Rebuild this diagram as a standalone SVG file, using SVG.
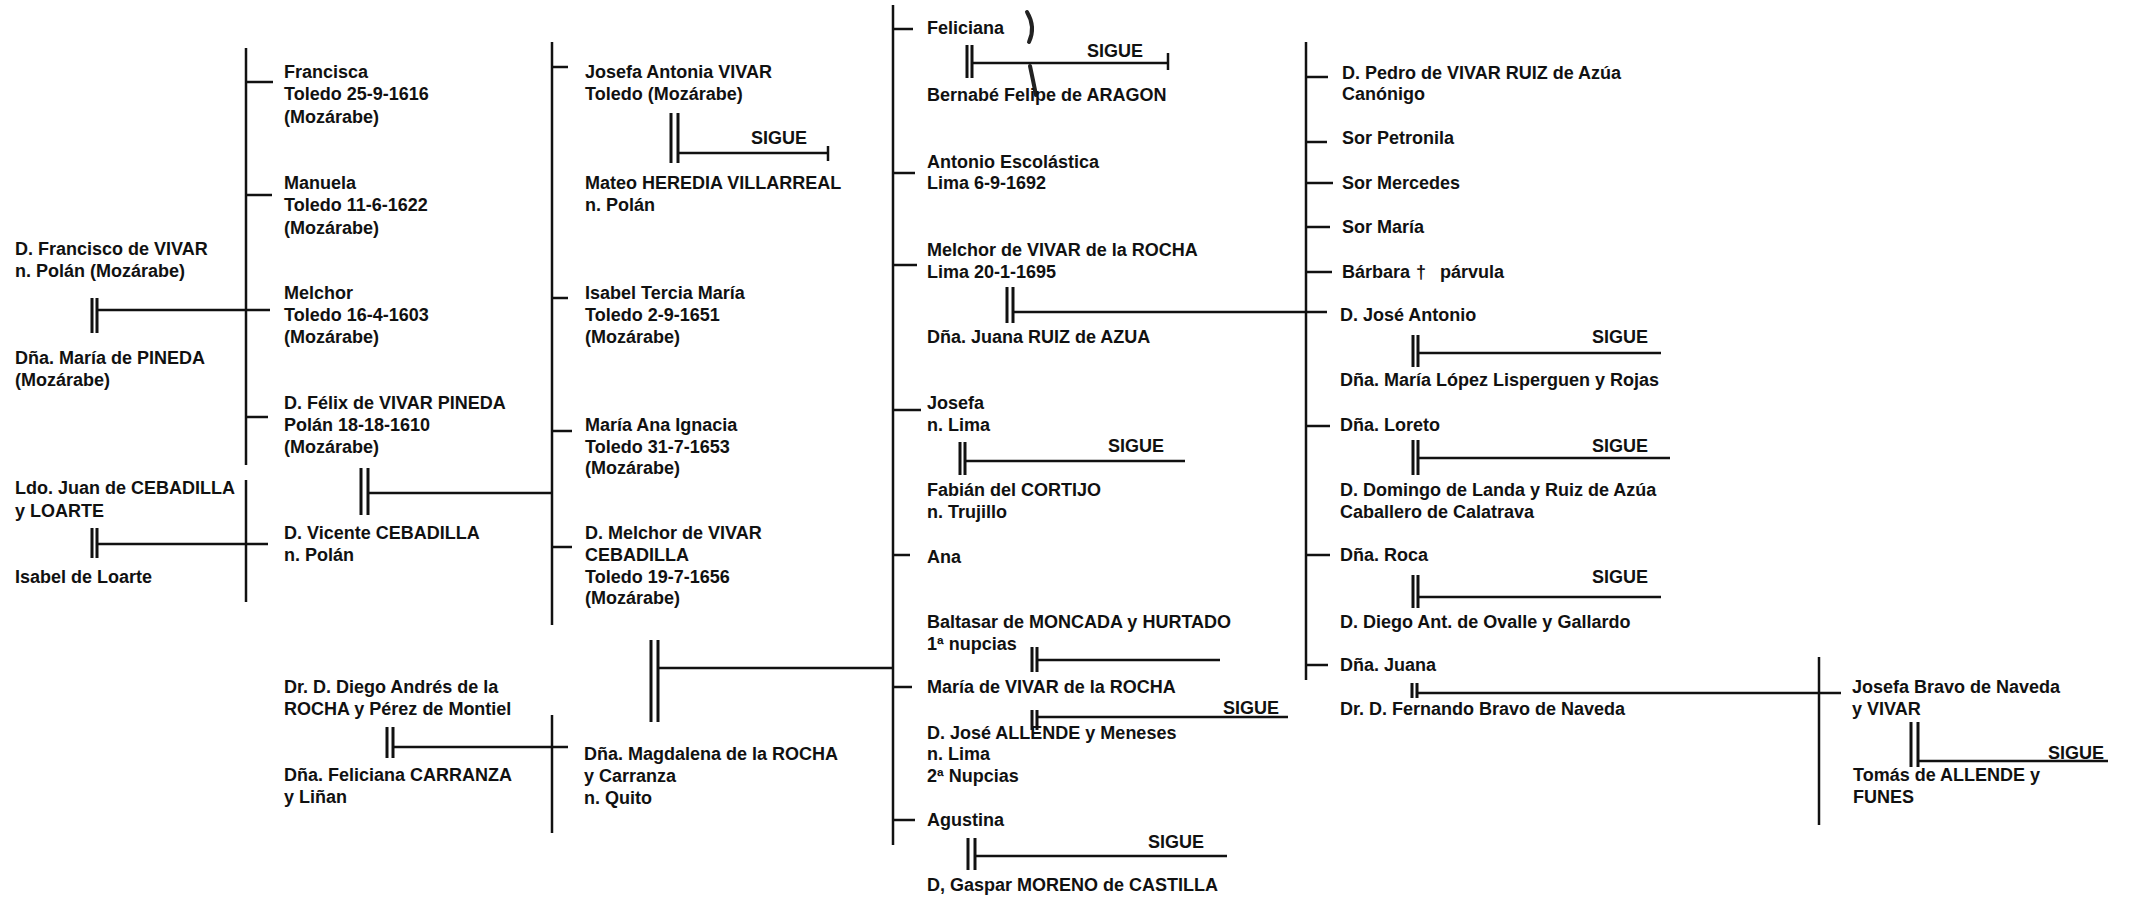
<svg xmlns="http://www.w3.org/2000/svg" width="2133" height="898" viewBox="0 0 2133 898">
<style>
text{font-family:"Liberation Sans",Arial,sans-serif;font-weight:bold;font-size:18px;fill:#111}
.c line{stroke:#111;stroke-width:2.5}
.m line{stroke:#111;stroke-width:3}
</style>
<rect width="2133" height="898" fill="#fff"/>
<g id="connectors" class="c">
<line x1="246" y1="48" x2="246" y2="465"/>
<line x1="246" y1="480" x2="246" y2="602"/>
<line x1="552" y1="42" x2="552" y2="625"/>
<line x1="552" y1="715" x2="552" y2="833"/>
<line x1="893" y1="5" x2="893" y2="845"/>
<line x1="1306" y1="42" x2="1306" y2="680"/>
<line x1="1819" y1="657" x2="1819" y2="825"/>
<line x1="246" y1="82" x2="273" y2="82"/>
<line x1="246" y1="195" x2="272" y2="195"/>
<line x1="97" y1="310" x2="270" y2="310"/>
<line x1="246" y1="417" x2="268" y2="417"/>
<line x1="97" y1="544" x2="268" y2="544"/>
<line x1="368" y1="493" x2="552" y2="493"/>
<line x1="393" y1="747" x2="568" y2="747"/>
<line x1="552" y1="67" x2="568" y2="67"/>
<line x1="552" y1="298" x2="568" y2="298"/>
<line x1="552" y1="431" x2="572" y2="431"/>
<line x1="552" y1="547" x2="572" y2="547"/>
<line x1="678" y1="153" x2="828" y2="153"/>
<line x1="828" y1="146" x2="828" y2="161"/>
<line x1="658" y1="668" x2="893" y2="668"/>
<line x1="893" y1="29" x2="913" y2="29"/>
<line x1="972" y1="63" x2="1168" y2="63"/>
<line x1="1168" y1="53" x2="1168" y2="70"/>
<line x1="893" y1="173" x2="915" y2="173"/>
<line x1="893" y1="265" x2="917" y2="265"/>
<line x1="1013" y1="312" x2="1327" y2="312"/>
<line x1="893" y1="410" x2="921" y2="410"/>
<line x1="965" y1="461" x2="1185" y2="461"/>
<line x1="893" y1="555" x2="910" y2="555"/>
<line x1="1037" y1="660" x2="1220" y2="660"/>
<line x1="893" y1="687" x2="912" y2="687"/>
<line x1="1037" y1="717" x2="1288" y2="717"/>
<line x1="893" y1="820" x2="915" y2="820"/>
<line x1="975" y1="856" x2="1227" y2="856"/>
<line x1="1306" y1="77" x2="1328" y2="77"/>
<line x1="1306" y1="142" x2="1327" y2="142"/>
<line x1="1306" y1="183" x2="1333" y2="183"/>
<line x1="1306" y1="227" x2="1330" y2="227"/>
<line x1="1306" y1="272" x2="1332" y2="272"/>
<line x1="1306" y1="426" x2="1330" y2="426"/>
<line x1="1306" y1="555" x2="1330" y2="555"/>
<line x1="1306" y1="665" x2="1328" y2="665"/>
<line x1="1418" y1="353" x2="1661" y2="353"/>
<line x1="1418" y1="458" x2="1670" y2="458"/>
<line x1="1418" y1="597" x2="1661" y2="597"/>
<line x1="1417" y1="693" x2="1841" y2="693"/>
<line x1="1918" y1="761" x2="2108" y2="761"/>
</g>
<g id="marriages" class="m">
<line x1="92" y1="298" x2="92" y2="333"/><line x1="97" y1="298" x2="97" y2="333"/>
<line x1="92" y1="528" x2="92" y2="558"/><line x1="97" y1="528" x2="97" y2="558"/>
<line x1="361" y1="468" x2="361" y2="515"/><line x1="368" y1="468" x2="368" y2="515"/>
<line x1="387" y1="727" x2="387" y2="758"/><line x1="393" y1="727" x2="393" y2="758"/>
<line x1="651" y1="640" x2="651" y2="722"/><line x1="658" y1="640" x2="658" y2="722"/>
<line x1="671" y1="113" x2="671" y2="163"/><line x1="678" y1="113" x2="678" y2="163"/>
<line x1="967" y1="45" x2="967" y2="78"/><line x1="972" y1="45" x2="972" y2="78"/>
<line x1="1007" y1="287" x2="1007" y2="323"/><line x1="1013" y1="287" x2="1013" y2="323"/>
<line x1="960" y1="442" x2="960" y2="475"/><line x1="965" y1="442" x2="965" y2="475"/>
<line x1="1032" y1="647" x2="1032" y2="672"/><line x1="1037" y1="647" x2="1037" y2="672"/>
<line x1="1032" y1="710" x2="1032" y2="730"/><line x1="1037" y1="710" x2="1037" y2="730"/>
<line x1="968" y1="838" x2="968" y2="870"/><line x1="975" y1="838" x2="975" y2="870"/>
<line x1="1413" y1="335" x2="1413" y2="367"/><line x1="1418" y1="335" x2="1418" y2="367"/>
<line x1="1413" y1="440" x2="1413" y2="475"/><line x1="1418" y1="440" x2="1418" y2="475"/>
<line x1="1413" y1="575" x2="1413" y2="608"/><line x1="1418" y1="575" x2="1418" y2="608"/>
<line x1="1412" y1="683" x2="1412" y2="698"/><line x1="1417" y1="683" x2="1417" y2="698"/>
<line x1="1911" y1="722" x2="1911" y2="767"/><line x1="1918" y1="722" x2="1918" y2="767"/>
</g>
<g id="marks" fill="none" stroke="#222" stroke-width="4" stroke-linecap="round">
<path d="M1027 12 Q1036 27 1029 42"/>
<path d="M1030 66 Q1033 80 1036 95"/>
</g>
<g id="n-francisco-vivar"><text x="15" y="255">D. Francisco de VIVAR<tspan x="15" dy="22">n. Polán (Mozárabe)</tspan></text></g>
<g id="n-maria-pineda"><text x="15" y="364">Dña. María de PINEDA<tspan x="15" dy="22">(Mozárabe)</tspan></text></g>
<g id="n-juan-cebadilla"><text x="15" y="494">Ldo. Juan de CEBADILLA<tspan x="15" dy="23">y LOARTE</tspan></text></g>
<g id="n-isabel-loarte"><text x="15" y="583">Isabel de Loarte</text></g>
<g id="n-francisca"><text x="284" y="78">Francisca<tspan x="284" dy="22">Toledo 25-9-1616</tspan><tspan x="284" dy="23">(Mozárabe)</tspan></text></g>
<g id="n-manuela"><text x="284" y="189">Manuela<tspan x="284" dy="22">Toledo 11-6-1622</tspan><tspan x="284" dy="23">(Mozárabe)</tspan></text></g>
<g id="n-melchor"><text x="284" y="299">Melchor<tspan x="284" dy="22">Toledo 16-4-1603</tspan><tspan x="284" dy="22">(Mozárabe)</tspan></text></g>
<g id="n-felix"><text x="284" y="409">D. Félix de VIVAR PINEDA<tspan x="284" dy="22">Polán 18-18-1610</tspan><tspan x="284" dy="22">(Mozárabe)</tspan></text></g>
<g id="n-vicente"><text x="284" y="539">D. Vicente CEBADILLA<tspan x="284" dy="22">n. Polán</tspan></text></g>
<g id="n-diego-rocha"><text x="284" y="693">Dr. D. Diego Andrés de la<tspan x="284" dy="22">ROCHA y Pérez de Montiel</tspan></text></g>
<g id="n-feliciana-carranza"><text x="284" y="781">Dña. Feliciana CARRANZA<tspan x="284" dy="22">y Liñan</tspan></text></g>
<g id="n-josefa-antonia"><text x="585" y="78">Josefa Antonia VIVAR<tspan x="585" dy="22">Toledo (Mozárabe)</tspan></text></g>
<g id="n-mateo"><text x="585" y="189">Mateo HEREDIA VILLARREAL<tspan x="585" dy="22">n. Polán</tspan></text></g>
<g id="n-isabel-tercia"><text x="585" y="299">Isabel Tercia María<tspan x="585" dy="22">Toledo 2-9-1651</tspan><tspan x="585" dy="22">(Mozárabe)</tspan></text></g>
<g id="n-maria-ana"><text x="585" y="431">María Ana Ignacia<tspan x="585" dy="22">Toledo 31-7-1653</tspan><tspan x="585" dy="21">(Mozárabe)</tspan></text></g>
<g id="n-melchor-cebadilla"><text x="585" y="539">D. Melchor de VIVAR<tspan x="585" dy="22">CEBADILLA</tspan><tspan x="585" dy="22">Toledo 19-7-1656</tspan><tspan x="585" dy="21">(Mozárabe)</tspan></text></g>
<g id="n-magdalena"><text x="584" y="760">Dña. Magdalena de la ROCHA<tspan x="584" dy="22">y Carranza</tspan><tspan x="584" dy="22">n. Quito</tspan></text></g>
<g id="n-feliciana"><text x="927" y="34">Feliciana</text></g>
<g id="n-bernabe"><text x="927" y="101">Bernabé Felipe de ARAGON</text></g>
<g id="n-antonio"><text x="927" y="168">Antonio Escolástica<tspan x="927" dy="21">Lima 6-9-1692</tspan></text></g>
<g id="n-melchor-rocha"><text x="927" y="256">Melchor de VIVAR de la ROCHA<tspan x="927" dy="22">Lima 20-1-1695</tspan></text></g>
<g id="n-juana-ruiz"><text x="927" y="343">Dña. Juana RUIZ de AZUA</text></g>
<g id="n-josefa"><text x="927" y="409">Josefa<tspan x="927" dy="22">n. Lima</tspan></text></g>
<g id="n-fabian"><text x="927" y="496">Fabián del CORTIJO<tspan x="927" dy="22">n. Trujillo</tspan></text></g>
<g id="n-ana"><text x="927" y="563">Ana</text></g>
<g id="n-baltasar"><text x="927" y="628">Baltasar de MONCADA y HURTADO<tspan x="927" dy="22">1ª nupcias</tspan></text></g>
<g id="n-maria-vivar"><text x="927" y="693">María de VIVAR de la ROCHA</text></g>
<g id="n-jose-allende"><text x="927" y="739">D. José ALLENDE y Meneses<tspan x="927" dy="21">n. Lima</tspan><tspan x="927" dy="22">2ª Nupcias</tspan></text></g>
<g id="n-agustina"><text x="927" y="826">Agustina</text></g>
<g id="n-gaspar"><text x="927" y="891">D, Gaspar MORENO de CASTILLA</text></g>
<g id="n-pedro"><text x="1342" y="79">D. Pedro de VIVAR RUIZ de Azúa<tspan x="1342" dy="21">Canónigo</tspan></text></g>
<g id="n-petronila"><text x="1342" y="144">Sor Petronila</text></g>
<g id="n-mercedes"><text x="1342" y="189">Sor Mercedes</text></g>
<g id="n-sor-maria"><text x="1342" y="233">Sor María</text></g>
<g id="n-barbara"><text x="1342" y="278">Bárbara <tspan x="1416">†</tspan><tspan x="1440">párvula</tspan></text></g>
<g id="n-jose-antonio"><text x="1340" y="321">D. José Antonio</text></g>
<g id="n-maria-lopez"><text x="1340" y="386">Dña. María López Lisperguen y Rojas</text></g>
<g id="n-loreto"><text x="1340" y="431">Dña. Loreto</text></g>
<g id="n-domingo"><text x="1340" y="496">D. Domingo de Landa y Ruiz de Azúa<tspan x="1340" dy="22">Caballero de Calatrava</tspan></text></g>
<g id="n-roca"><text x="1340" y="561">Dña. Roca</text></g>
<g id="n-diego-ovalle"><text x="1340" y="628">D. Diego Ant. de Ovalle y Gallardo</text></g>
<g id="n-juana"><text x="1340" y="671">Dña. Juana</text></g>
<g id="n-fernando"><text x="1340" y="715">Dr. D. Fernando Bravo de Naveda</text></g>
<g id="n-josefa-bravo"><text x="1852" y="693">Josefa Bravo de Naveda<tspan x="1852" dy="22">y VIVAR</tspan></text></g>
<g id="n-tomas"><text x="1853" y="781">Tomás de ALLENDE y<tspan x="1853" dy="22">FUNES</tspan></text></g>
<g id="sigue">
<text x="751" y="144">SIGUE</text>
<text x="1087" y="57">SIGUE</text>
<text x="1108" y="452">SIGUE</text>
<text x="1223" y="714">SIGUE</text>
<text x="1148" y="848">SIGUE</text>
<text x="1592" y="343">SIGUE</text>
<text x="1592" y="452">SIGUE</text>
<text x="1592" y="583">SIGUE</text>
<text x="2048" y="759">SIGUE</text>
</g>
</svg>
